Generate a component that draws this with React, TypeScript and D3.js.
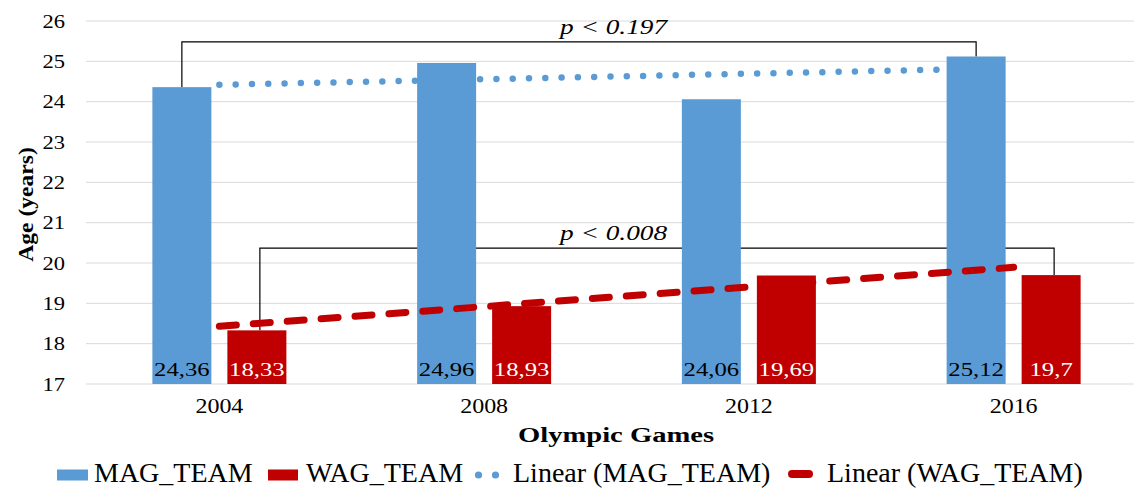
import React from 'react';
import * as d3 from 'd3';

const games = ['2004', '2008', '2012', '2016'];
const seriesNames = ['MAG_TEAM', 'WAG_TEAM'];
const magValues = [24.36, 24.96, 24.06, 25.12];
const wagValues = [18.33, 18.93, 19.69, 19.7];
const magLabels = ['24,36', '24,96', '24,06', '25,12'];
const wagLabels = ['18,33', '18,93', '19,69', '19,7'];
const yTicks = [17, 18, 19, 20, 21, 22, 23, 24, 25, 26];
const pLabels = ['p < 0.197', 'p < 0.008'];
const bracketLevels = [25.48, 20.37];

const W = 1134;
const H = 488;
const BLUE = '#5B9BD5';
const RED = '#C00000';
const FONT = '"Liberation Serif", "Times New Roman", serif';

// least squares fit over category index, like Excel's linear trendline
function linearFit(vals: number[]) {
  const xs = vals.map((_, i) => i + 1);
  const mx = d3.mean(xs) as number;
  const my = d3.mean(vals) as number;
  const num = d3.sum(xs, (x, i) => (x - mx) * (vals[i] - my));
  const den = d3.sum(xs, (x) => (x - mx) * (x - mx));
  const slope = num / den;
  return xs.map((x) => my + slope * (x - mx));
}

const T: React.FC<any> = ({ x, y, sx = 1, size, anchor = 'start', weight, italic, fill = '#000', children }) => (
  <text
    transform={`translate(${x},${y}) scale(${sx},1)`}
    textAnchor={anchor}
    fontSize={size}
    fontWeight={weight}
    fontStyle={italic ? 'italic' : undefined}
    fill={fill}
    fontFamily={FONT}
  >
    {children}
  </text>
);

export default function App() {
  const x = d3.scaleBand<string>().domain(games).range([87, 1146]).padding(0);
  const inner = d3
    .scaleBand<string>()
    .domain(seriesNames)
    .range([0, x.bandwidth()])
    .paddingInner(0.2133)
    .paddingOuter(0.8717);
  const y = d3.scaleLinear().domain([17, 26]).range([384, 21]);
  const bw = inner.bandwidth();
  const center = (g: string) => (x(g) as number) + x.bandwidth() / 2;
  const barCenter = (g: string, s: string) => (x(g) as number) + (inner(s) as number) + bw / 2;

  const magTrend = linearFit(magValues);
  const wagTrend = linearFit(wagValues);
  const line = d3
    .line<number>()
    .x((_, i) => center(games[i]))
    .y((d) => y(d));

  const series = [
    { name: seriesNames[0], values: magValues, labels: magLabels, color: BLUE, text: '#000' },
    { name: seriesNames[1], values: wagValues, labels: wagLabels, color: RED, text: '#fff' },
  ];

  const brackets = series.map((s, k) => {
    const x1 = barCenter(games[0], s.name) + k * 3;
    const x2 = barCenter(games[games.length - 1], s.name) + k * 3;
    const yb = y(bracketLevels[k]);
    return {
      path: `M${x1},${y(s.values[0])}V${yb}H${x2}V${y(s.values[s.values.length - 1])}`,
      label: pLabels[k],
      yb,
    };
  });

  const midX = (x.range()[0] + x.range()[1]) / 2 - 3;
  const LY = 482;

  return (
    <div style={{ position: 'absolute', left: 0, top: 0 }}>
      <svg width={W} height={H} style={{ display: 'block', background: '#fff' }}>
        {/* grid */}
        {yTicks.map((t) => (
          <line key={t} x1={86} x2={W} y1={y(t)} y2={y(t)} stroke="#d9d9d9" strokeWidth={1} />
        ))}
        {yTicks.map((t) => (
          <T key={'yl' + t} x={65} y={y(t) + 6.5} sx={1.25} size={18} anchor="end">
            {t}
          </T>
        ))}

        {/* brackets */}
        {brackets.map((b, k) => (
          <g key={'br' + k}>
            <path d={b.path} fill="none" stroke="#000" strokeWidth={1.2} />
            <T x={midX} y={b.yb - 8} sx={1.3} size={21} anchor="middle" italic>
              {b.label}
            </T>
          </g>
        ))}

        {/* bars */}
        {series.map((s) =>
          games.map((g, i) => (
            <rect
              key={s.name + g}
              x={(x(g) as number) + (inner(s.name) as number)}
              y={y(s.values[i])}
              width={bw}
              height={y(17) - y(s.values[i])}
              fill={s.color}
            />
          ))
        )}
        {series.map((s) =>
          games.map((g, i) => (
            <T key={'lb' + s.name + g} x={barCenter(g, s.name)} y={376} sx={1.3} size={19} anchor="middle" fill={s.text}>
              {s.labels[i]}
            </T>
          ))
        )}

        {/* trendlines */}
        <path
          d={line(magTrend) as string}
          fill="none"
          stroke={BLUE}
          strokeWidth={6.5}
          strokeDasharray="0 16.3"
          strokeLinecap="round"
        />
        <path
          d={line(wagTrend) as string}
          fill="none"
          stroke={RED}
          strokeWidth={7}
          strokeDasharray="17 17"
          strokeLinecap="round"
        />

        {/* x axis */}
        {games.map((g) => (
          <T key={'xl' + g} x={center(g)} y={413} sx={1.2} size={20} anchor="middle">
            {g}
          </T>
        ))}
        <T x={616} y={441.5} sx={1.3} size={22} anchor="middle" weight="bold">
          Olympic Games
        </T>
        <text
          transform="translate(33,204.5) rotate(-90) scale(1.18,1)"
          textAnchor="middle"
          fontSize={20}
          fontWeight="bold"
          fontFamily={FONT}
        >
          Age (years)
        </text>

        {/* legend */}
        <rect x={57} y={469.5} width={31} height={11} fill={BLUE} />
        <T x={94} y={LY} size={28}>{seriesNames[0]}</T>
        <rect x={268} y={469.5} width={30} height={11} fill={RED} />
        <T x={306} y={LY} size={28}>{seriesNames[1]}</T>
        <circle cx={478.5} cy={475} r={3.6} fill={BLUE} />
        <circle cx={495.5} cy={475} r={3.6} fill={BLUE} />
        <T x={513} y={LY} size={28}>{`Linear (${seriesNames[0]})`}</T>
        <line x1={792} x2={809} y1={474} y2={474} stroke={RED} strokeWidth={8} strokeLinecap="round" />
        <T x={827} y={LY} size={28}>{`Linear (${seriesNames[1]})`}</T>
      </svg>
    </div>
  );
}
